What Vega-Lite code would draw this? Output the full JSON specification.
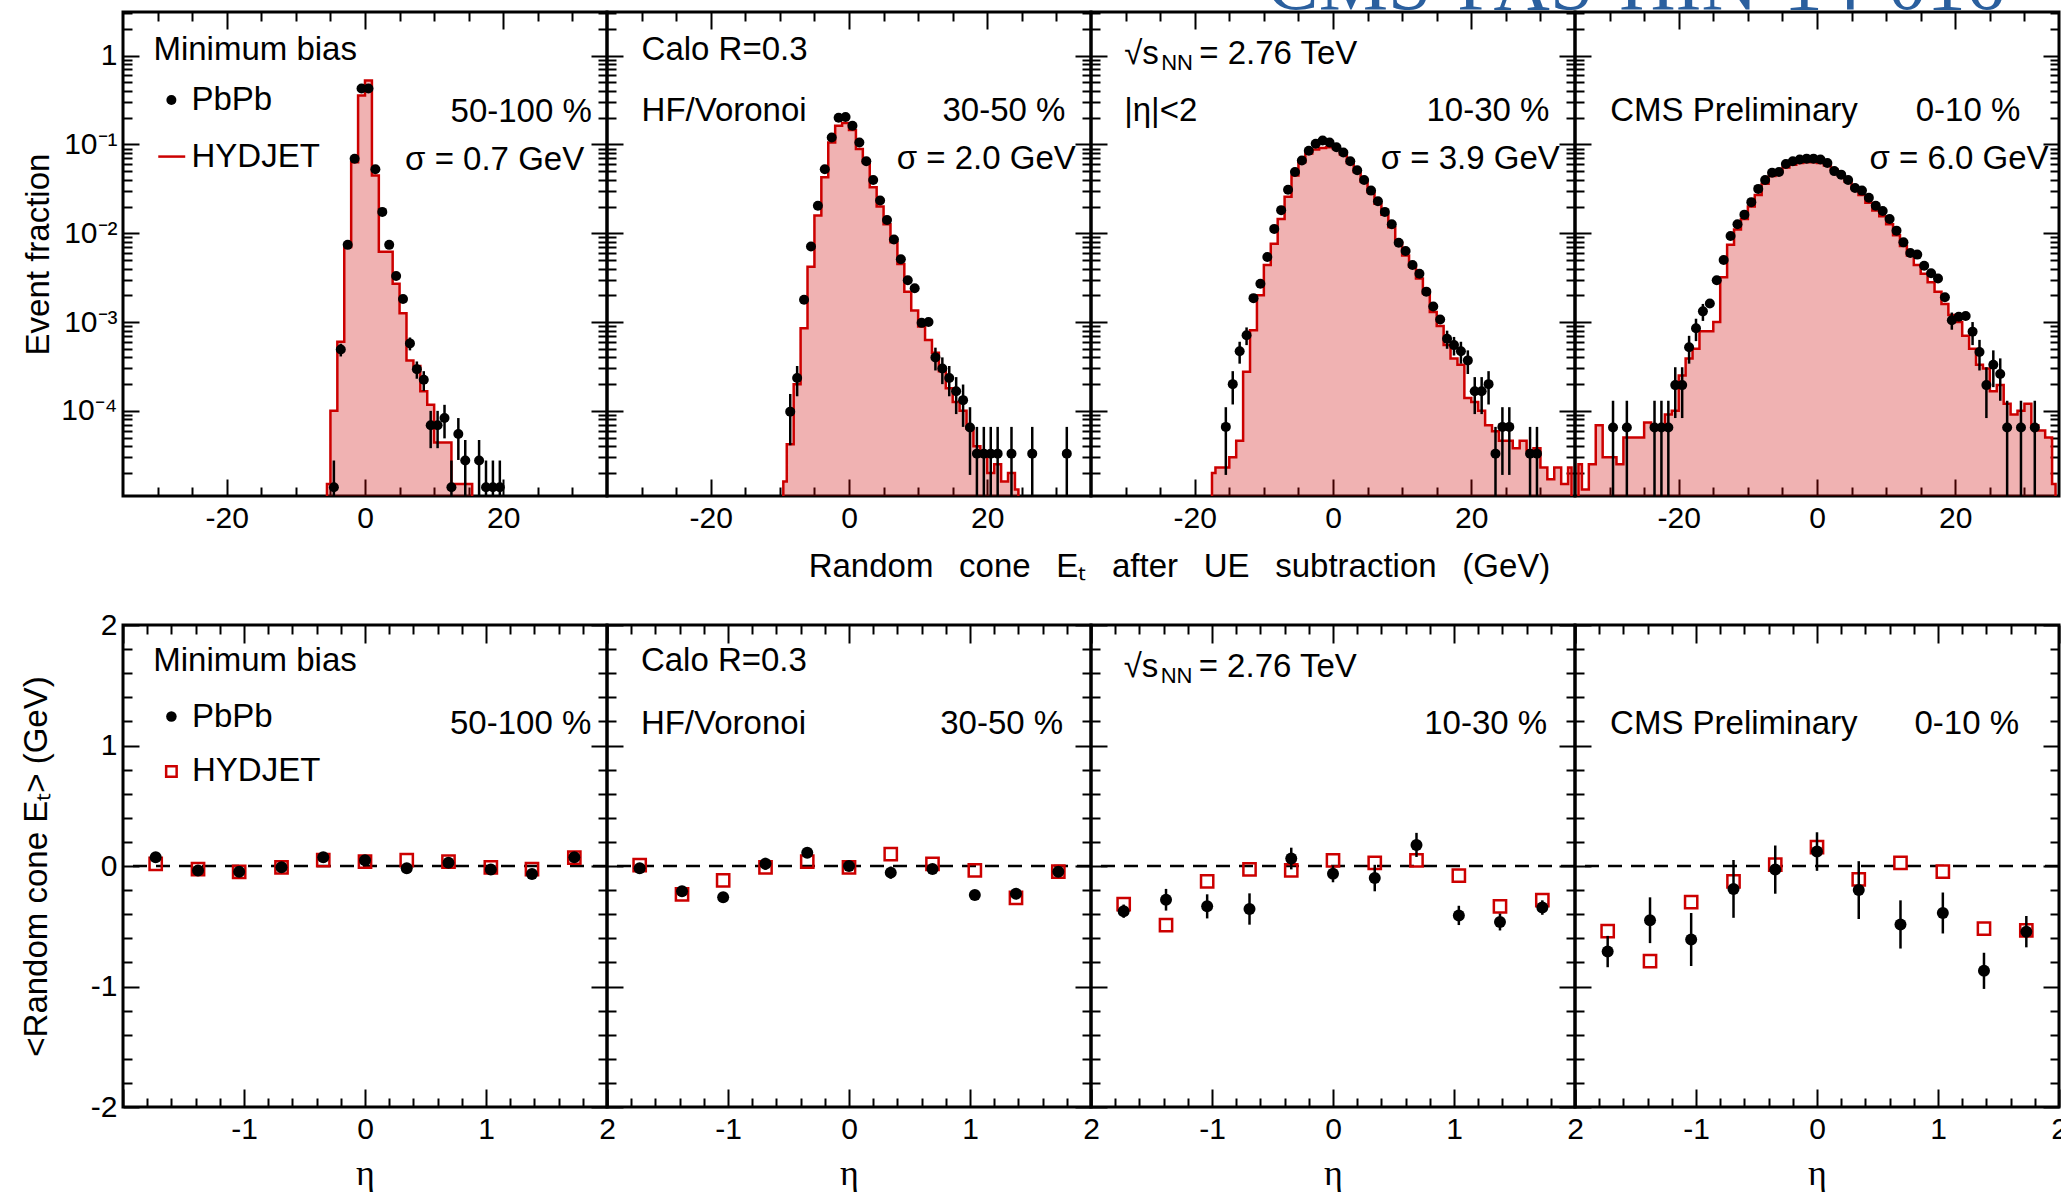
{
  "$schema": "https://vega.github.io/schema/vega-lite/v6.json",
  "background": "white",
  "padding": {"left": 18, "top": -55, "right": 4, "bottom": 2},
  "config": {
    "font": "Liberation Sans",
    "view": {"stroke": "black", "strokeWidth": 3},
    "axis": {"domain": false, "grid": false, "labelFont": "Liberation Sans", "labelFontSize": 30, "labelColor": "black", "tickColor": "black", "tickWidth": 2, "titleFont": "Liberation Sans", "titleFontSize": 33, "titleFontWeight": "normal", "titleColor": "black", "labelFlush": false, "labelOverlap": false, "labelBound": false},
    "text": {"font": "Liberation Sans", "fontSize": 33, "align": "left", "baseline": "middle", "color": "black"}
  },
  "datasets": {
    "hyd": [
      {"p":1,"x":-5.5,"y":1.5e-5},{"p":1,"x":-4.5,"y":1.0e-4},{"p":1,"x":-3.5,"y":6.0e-4},{"p":1,"x":-2.5,"y":7.0e-3},{"p":1,"x":-1.5,"y":0.063},{"p":1,"x":-0.5,"y":0.355},{"p":1,"x":0.5,"y":0.525},{"p":1,"x":1.5,"y":0.0447},{"p":1,"x":2.5,"y":6.2e-3},{"p":1,"x":3.5,"y":6.2e-3},{"p":1,"x":4.5,"y":2.7e-3},{"p":1,"x":5.5,"y":1.26e-3},{"p":1,"x":6.5,"y":3.7e-4},{"p":1,"x":7.5,"y":3.2e-4},{"p":1,"x":8.5,"y":1.66e-4},{"p":1,"x":9.5,"y":1.17e-4},{"p":1,"x":10.5,"y":4.4e-5},{"p":1,"x":11.5,"y":4.4e-5},{"p":1,"x":13.5,"y":1.5e-5},{"p":1,"x":14.5,"y":1.5e-5},{"p":1,"x":15.5,"y":1.5e-5},
      {"p":2,"x":-9.5,"y":1.6e-5},{"p":2,"x":-8.5,"y":4.2e-5},{"p":2,"x":-7.5,"y":2.0e-4},{"p":2,"x":-6.5,"y":8.5e-4},{"p":2,"x":-5.5,"y":4.2e-3},{"p":2,"x":-4.5,"y":0.0158},{"p":2,"x":-3.5,"y":0.0427},{"p":2,"x":-2.5,"y":0.105},{"p":2,"x":-1.5,"y":0.162},{"p":2,"x":-0.5,"y":0.174},{"p":2,"x":0.5,"y":0.145},{"p":2,"x":1.5,"y":0.089},{"p":2,"x":2.5,"y":0.063},{"p":2,"x":3.5,"y":0.033},{"p":2,"x":4.5,"y":0.02},{"p":2,"x":5.5,"y":0.0126},{"p":2,"x":6.5,"y":7.9e-3},{"p":2,"x":7.5,"y":4.5e-3},{"p":2,"x":8.5,"y":2.2e-3},{"p":2,"x":9.5,"y":1.35e-3},{"p":2,"x":10.5,"y":8.9e-4},{"p":2,"x":11.5,"y":6.3e-4},{"p":2,"x":12.5,"y":4.5e-4},{"p":2,"x":13.5,"y":2.8e-4},{"p":2,"x":14.5,"y":1.8e-4},{"p":2,"x":15.5,"y":1.26e-4},{"p":2,"x":16.5,"y":1.0e-4},{"p":2,"x":17.5,"y":6.3e-5},{"p":2,"x":18.5,"y":4.0e-5},{"p":2,"x":19.5,"y":3.2e-5},{"p":2,"x":20.5,"y":2.0e-5},{"p":2,"x":21.5,"y":2.5e-5},{"p":2,"x":22.5,"y":1.6e-5},{"p":2,"x":23.5,"y":2.0e-5},{"p":2,"x":24.5,"y":1.3e-5},
      {"p":3,"x":-17.5,"y":2.0e-5},{"p":3,"x":-16.5,"y":2.3e-5},{"p":3,"x":-15.5,"y":2.3e-5},{"p":3,"x":-14.5,"y":3.0e-5},{"p":3,"x":-13.5,"y":4.6e-5},{"p":3,"x":-12.5,"y":2.75e-4},{"p":3,"x":-11.5,"y":8.1e-4},{"p":3,"x":-10.5,"y":2.0e-3},{"p":3,"x":-9.5,"y":4.4e-3},{"p":3,"x":-8.5,"y":7.6e-3},{"p":3,"x":-7.5,"y":0.0145},{"p":3,"x":-6.5,"y":0.0257},{"p":3,"x":-5.5,"y":0.0447},{"p":3,"x":-4.5,"y":0.063},{"p":3,"x":-3.5,"y":0.079},{"p":3,"x":-2.5,"y":0.088},{"p":3,"x":-1.5,"y":0.091},{"p":3,"x":-0.5,"y":0.093},{"p":3,"x":0.5,"y":0.089},{"p":3,"x":1.5,"y":0.077},{"p":3,"x":2.5,"y":0.062},{"p":3,"x":3.5,"y":0.049},{"p":3,"x":4.5,"y":0.038},{"p":3,"x":5.5,"y":0.029},{"p":3,"x":6.5,"y":0.0215},{"p":3,"x":7.5,"y":0.0162},{"p":3,"x":8.5,"y":0.0117},{"p":3,"x":9.5,"y":7.8e-3},{"p":3,"x":10.5,"y":5.6e-3},{"p":3,"x":11.5,"y":4.2e-3},{"p":3,"x":12.5,"y":3.1e-3},{"p":3,"x":13.5,"y":2.1e-3},{"p":3,"x":14.5,"y":1.3e-3},{"p":3,"x":15.5,"y":9.0e-4},{"p":3,"x":16.5,"y":5.5e-4},{"p":3,"x":17.5,"y":3.9e-4},{"p":3,"x":18.5,"y":3.3e-4},{"p":3,"x":19.5,"y":1.4e-4},{"p":3,"x":20.5,"y":1.26e-4},{"p":3,"x":21.5,"y":1.0e-4},{"p":3,"x":22.5,"y":6.9e-5},{"p":3,"x":23.5,"y":5.9e-5},{"p":3,"x":24.5,"y":4.6e-5},{"p":3,"x":25.5,"y":4.6e-5},{"p":3,"x":26.5,"y":3.8e-5},{"p":3,"x":27.5,"y":4.6e-5},{"p":3,"x":28.5,"y":3.6e-5},{"p":3,"x":29.5,"y":3.8e-5},{"p":3,"x":30.5,"y":2.3e-5},{"p":3,"x":31.5,"y":1.7e-5},{"p":3,"x":32.5,"y":2.3e-5},{"p":3,"x":33.5,"y":1.5e-5},{"p":3,"x":34.5,"y":2.3e-5},
      {"p":4,"x":-34.5,"y":2.5e-5},{"p":4,"x":-33.5,"y":1.3e-5},{"p":4,"x":-32.5,"y":2.5e-5},{"p":4,"x":-31.5,"y":6.9e-5},{"p":4,"x":-30.5,"y":3.0e-5},{"p":4,"x":-29.5,"y":3.0e-5},{"p":4,"x":-28.5,"y":2.5e-5},{"p":4,"x":-27.5,"y":5.0e-5},{"p":4,"x":-26.5,"y":5.0e-5},{"p":4,"x":-25.5,"y":5.0e-5},{"p":4,"x":-24.5,"y":7.4e-5},{"p":4,"x":-23.5,"y":6.9e-5},{"p":4,"x":-22.5,"y":6.9e-5},{"p":4,"x":-21.5,"y":9.1e-5},{"p":4,"x":-20.5,"y":1.0e-4},{"p":4,"x":-19.5,"y":2.5e-4},{"p":4,"x":-18.5,"y":3.9e-4},{"p":4,"x":-17.5,"y":5.0e-4},{"p":4,"x":-16.5,"y":7.9e-4},{"p":4,"x":-15.5,"y":7.9e-4},{"p":4,"x":-14.5,"y":1.0e-3},{"p":4,"x":-13.5,"y":3.2e-3},{"p":4,"x":-12.5,"y":7.4e-3},{"p":4,"x":-11.5,"y":0.011},{"p":4,"x":-10.5,"y":0.0145},{"p":4,"x":-9.5,"y":0.02},{"p":4,"x":-8.5,"y":0.027},{"p":4,"x":-7.5,"y":0.036},{"p":4,"x":-6.5,"y":0.044},{"p":4,"x":-5.5,"y":0.05},{"p":4,"x":-4.5,"y":0.055},{"p":4,"x":-3.5,"y":0.059},{"p":4,"x":-2.5,"y":0.062},{"p":4,"x":-1.5,"y":0.063},{"p":4,"x":-0.5,"y":0.063},{"p":4,"x":0.5,"y":0.062},{"p":4,"x":1.5,"y":0.058},{"p":4,"x":2.5,"y":0.052},{"p":4,"x":3.5,"y":0.045},{"p":4,"x":4.5,"y":0.038},{"p":4,"x":5.5,"y":0.032},{"p":4,"x":6.5,"y":0.027},{"p":4,"x":7.5,"y":0.022},{"p":4,"x":8.5,"y":0.018},{"p":4,"x":9.5,"y":0.0155},{"p":4,"x":10.5,"y":0.0126},{"p":4,"x":11.5,"y":9.5e-3},{"p":4,"x":12.5,"y":7.2e-3},{"p":4,"x":13.5,"y":5.6e-3},{"p":4,"x":14.5,"y":4.4e-3},{"p":4,"x":15.5,"y":3.5e-3},{"p":4,"x":16.5,"y":2.8e-3},{"p":4,"x":17.5,"y":2.2e-3},{"p":4,"x":18.5,"y":1.6e-3},{"p":4,"x":19.5,"y":1.2e-3},{"p":4,"x":20.5,"y":1.0e-3},{"p":4,"x":21.5,"y":7.0e-4},{"p":4,"x":22.5,"y":5.0e-4},{"p":4,"x":23.5,"y":3.3e-4},{"p":4,"x":24.5,"y":3.0e-4},{"p":4,"x":25.5,"y":1.66e-4},{"p":4,"x":26.5,"y":1.95e-4},{"p":4,"x":27.5,"y":1.2e-4},{"p":4,"x":28.5,"y":9.1e-5},{"p":4,"x":29.5,"y":1.0e-4},{"p":4,"x":30.5,"y":1.2e-4},{"p":4,"x":31.5,"y":6.9e-5},{"p":4,"x":32.5,"y":6.0e-5},{"p":4,"x":33.5,"y":5.0e-5},{"p":4,"x":34.5,"y":1.5e-5}
    ],
    "pb": [
      {"p":1,"x":-4.5,"y":1.38e-5,"lo":1e-7,"hi":2.76e-5},{"p":1,"x":-3.5,"y":4.9e-4,"lo":4.1e-4,"hi":5.7e-4},{"p":1,"x":-2.5,"y":7.4e-3},{"p":1,"x":-1.5,"y":0.069},{"p":1,"x":-0.5,"y":0.427},{"p":1,"x":0.5,"y":0.427},{"p":1,"x":1.5,"y":0.0525},{"p":1,"x":2.5,"y":0.0174},{"p":1,"x":3.5,"y":7.4e-3},{"p":1,"x":4.5,"y":3.3e-3},{"p":1,"x":5.5,"y":1.82e-3},{"p":1,"x":6.5,"y":5.75e-4,"lo":4.8e-4,"hi":6.7e-4},{"p":1,"x":7.5,"y":2.95e-4,"lo":2.3e-4,"hi":3.6e-4},{"p":1,"x":8.5,"y":2.24e-4,"lo":1.68e-4,"hi":2.8e-4},{"p":1,"x":9.5,"y":6.9e-5,"lo":3.8e-5,"hi":1.0e-4},{"p":1,"x":10.5,"y":6.9e-5,"lo":3.8e-5,"hi":1.0e-4},{"p":1,"x":11.5,"y":8.3e-5,"lo":4.9e-5,"hi":1.17e-4},{"p":1,"x":12.5,"y":1.38e-5,"lo":1e-7,"hi":2.76e-5},{"p":1,"x":13.5,"y":5.5e-5,"lo":2.8e-5,"hi":8.3e-5},{"p":1,"x":14.5,"y":2.76e-5,"lo":8e-6,"hi":4.7e-5},{"p":1,"x":16.5,"y":2.76e-5,"lo":8e-6,"hi":4.7e-5},{"p":1,"x":17.5,"y":1.38e-5,"lo":1e-7,"hi":2.76e-5},{"p":1,"x":18.5,"y":1.38e-5,"lo":1e-7,"hi":2.76e-5},{"p":1,"x":19.5,"y":1.38e-5,"lo":1e-7,"hi":2.76e-5},
      {"p":2,"x":-8.5,"y":9.8e-5,"lo":4.1e-5,"hi":1.55e-4},{"p":2,"x":-7.5,"y":2.35e-4,"lo":1.46e-4,"hi":3.2e-4},{"p":2,"x":-6.5,"y":1.78e-3},{"p":2,"x":-5.5,"y":7.1e-3},{"p":2,"x":-4.5,"y":0.0204},{"p":2,"x":-3.5,"y":0.0525},{"p":2,"x":-2.5,"y":0.12},{"p":2,"x":-1.5,"y":0.2},{"p":2,"x":-0.5,"y":0.204},{"p":2,"x":0.5,"y":0.162},{"p":2,"x":1.5,"y":0.105},{"p":2,"x":2.5,"y":0.0646},{"p":2,"x":3.5,"y":0.0398},{"p":2,"x":4.5,"y":0.0234},{"p":2,"x":5.5,"y":0.0141},{"p":2,"x":6.5,"y":8.5e-3},{"p":2,"x":7.5,"y":5.1e-3},{"p":2,"x":8.5,"y":2.95e-3},{"p":2,"x":9.5,"y":2.4e-3},{"p":2,"x":10.5,"y":9.8e-4},{"p":2,"x":11.5,"y":1.0e-3},{"p":2,"x":12.5,"y":4.0e-4,"lo":2.85e-4,"hi":5.15e-4},{"p":2,"x":13.5,"y":3.0e-4,"lo":2.0e-4,"hi":4.0e-4},{"p":2,"x":14.5,"y":2.35e-4,"lo":1.46e-4,"hi":3.2e-4},{"p":2,"x":15.5,"y":1.66e-4,"lo":9.2e-5,"hi":2.4e-4},{"p":2,"x":16.5,"y":1.32e-4,"lo":6.6e-5,"hi":1.98e-4},{"p":2,"x":17.5,"y":6.5e-5,"lo":1.9e-5,"hi":1.1e-4},{"p":2,"x":18.5,"y":3.3e-5,"lo":1e-7,"hi":6.6e-5},{"p":2,"x":19.5,"y":3.3e-5,"lo":1e-7,"hi":6.6e-5},{"p":2,"x":20.5,"y":3.3e-5,"lo":1e-7,"hi":6.6e-5},{"p":2,"x":21.5,"y":3.3e-5,"lo":1e-7,"hi":6.6e-5},{"p":2,"x":23.5,"y":3.3e-5,"lo":1e-7,"hi":6.6e-5},{"p":2,"x":26.5,"y":3.3e-5,"lo":1e-7,"hi":6.6e-5},{"p":2,"x":31.5,"y":3.3e-5,"lo":1e-7,"hi":6.6e-5},
      {"p":3,"x":-15.5,"y":6.6e-5,"lo":1.9e-5,"hi":1.1e-4},{"p":3,"x":-14.5,"y":2.0e-4,"lo":1.18e-4,"hi":2.8e-4},{"p":3,"x":-13.5,"y":4.7e-4,"lo":3.4e-4,"hi":6.0e-4},{"p":3,"x":-12.5,"y":7.1e-4,"lo":5.5e-4,"hi":8.7e-4},{"p":3,"x":-11.5,"y":1.86e-3},{"p":3,"x":-10.5,"y":2.7e-3},{"p":3,"x":-9.5,"y":5.4e-3},{"p":3,"x":-8.5,"y":0.0112},{"p":3,"x":-7.5,"y":0.0182},{"p":3,"x":-6.5,"y":0.0309},{"p":3,"x":-5.5,"y":0.049},{"p":3,"x":-4.5,"y":0.066},{"p":3,"x":-3.5,"y":0.085},{"p":3,"x":-2.5,"y":0.102},{"p":3,"x":-1.5,"y":0.111},{"p":3,"x":-0.5,"y":0.105},{"p":3,"x":0.5,"y":0.093},{"p":3,"x":1.5,"y":0.081},{"p":3,"x":2.5,"y":0.0646},{"p":3,"x":3.5,"y":0.0513},{"p":3,"x":4.5,"y":0.0398},{"p":3,"x":5.5,"y":0.0302},{"p":3,"x":6.5,"y":0.0229},{"p":3,"x":7.5,"y":0.0174},{"p":3,"x":8.5,"y":0.0126},{"p":3,"x":9.5,"y":7.8e-3},{"p":3,"x":10.5,"y":6.3e-3},{"p":3,"x":11.5,"y":4.4e-3},{"p":3,"x":12.5,"y":3.5e-3},{"p":3,"x":13.5,"y":2.2e-3},{"p":3,"x":14.5,"y":1.5e-3},{"p":3,"x":15.5,"y":1.07e-3},{"p":3,"x":16.5,"y":6.5e-4,"lo":5.0e-4,"hi":8.0e-4},{"p":3,"x":17.5,"y":5.5e-4,"lo":4.2e-4,"hi":6.8e-4},{"p":3,"x":18.5,"y":4.7e-4,"lo":3.4e-4,"hi":6.0e-4},{"p":3,"x":19.5,"y":3.7e-4,"lo":2.6e-4,"hi":4.8e-4},{"p":3,"x":20.5,"y":1.66e-4,"lo":9.2e-5,"hi":2.4e-4},{"p":3,"x":21.5,"y":1.66e-4,"lo":9.2e-5,"hi":2.4e-4},{"p":3,"x":22.5,"y":2.0e-4,"lo":1.18e-4,"hi":2.8e-4},{"p":3,"x":23.5,"y":3.3e-5,"lo":1e-7,"hi":6.6e-5},{"p":3,"x":24.5,"y":6.6e-5,"lo":1.9e-5,"hi":1.1e-4},{"p":3,"x":25.5,"y":6.6e-5,"lo":1.9e-5,"hi":1.1e-4},{"p":3,"x":28.5,"y":3.3e-5,"lo":1e-7,"hi":6.6e-5},{"p":3,"x":29.5,"y":3.3e-5,"lo":1e-7,"hi":6.6e-5},
      {"p":4,"x":-29.5,"y":6.5e-5,"lo":1e-7,"hi":1.3e-4},{"p":4,"x":-27.5,"y":6.5e-5,"lo":1e-7,"hi":1.3e-4},{"p":4,"x":-23.5,"y":6.5e-5,"lo":1e-7,"hi":1.3e-4},{"p":4,"x":-22.5,"y":6.5e-5,"lo":1e-7,"hi":1.3e-4},{"p":4,"x":-21.5,"y":6.5e-5,"lo":1e-7,"hi":1.3e-4},{"p":4,"x":-20.5,"y":1.95e-4,"lo":8.3e-5,"hi":3.1e-4},{"p":4,"x":-19.5,"y":1.95e-4,"lo":8.3e-5,"hi":3.1e-4},{"p":4,"x":-18.5,"y":5.2e-4,"lo":3.4e-4,"hi":7.0e-4},{"p":4,"x":-17.5,"y":8.5e-4,"lo":6.1e-4,"hi":1.09e-3},{"p":4,"x":-16.5,"y":1.32e-3,"lo":1.03e-3,"hi":1.6e-3},{"p":4,"x":-15.5,"y":1.62e-3},{"p":4,"x":-14.5,"y":2.95e-3},{"p":4,"x":-13.5,"y":5.0e-3},{"p":4,"x":-12.5,"y":9.3e-3},{"p":4,"x":-11.5,"y":0.0126},{"p":4,"x":-10.5,"y":0.0162},{"p":4,"x":-9.5,"y":0.0224},{"p":4,"x":-8.5,"y":0.0316},{"p":4,"x":-7.5,"y":0.0398},{"p":4,"x":-6.5,"y":0.0479},{"p":4,"x":-5.5,"y":0.049},{"p":4,"x":-4.5,"y":0.0603},{"p":4,"x":-3.5,"y":0.0646},{"p":4,"x":-2.5,"y":0.0676},{"p":4,"x":-1.5,"y":0.0692},{"p":4,"x":-0.5,"y":0.0692},{"p":4,"x":0.5,"y":0.0676},{"p":4,"x":1.5,"y":0.0617},{"p":4,"x":2.5,"y":0.0501},{"p":4,"x":3.5,"y":0.0457},{"p":4,"x":4.5,"y":0.0398},{"p":4,"x":5.5,"y":0.0324},{"p":4,"x":6.5,"y":0.0302},{"p":4,"x":7.5,"y":0.0251},{"p":4,"x":8.5,"y":0.0204},{"p":4,"x":9.5,"y":0.0178},{"p":4,"x":10.5,"y":0.0145},{"p":4,"x":11.5,"y":0.0107},{"p":4,"x":12.5,"y":7.9e-3},{"p":4,"x":13.5,"y":6.0e-3},{"p":4,"x":14.5,"y":5.75e-3},{"p":4,"x":15.5,"y":4.3e-3},{"p":4,"x":16.5,"y":3.55e-3},{"p":4,"x":17.5,"y":3.1e-3},{"p":4,"x":18.5,"y":1.9e-3},{"p":4,"x":19.5,"y":1.05e-3,"lo":8.2e-4,"hi":1.28e-3},{"p":4,"x":20.5,"y":1.15e-3},{"p":4,"x":21.5,"y":1.17e-3},{"p":4,"x":22.5,"y":7.8e-4,"lo":5.5e-4,"hi":1.0e-3},{"p":4,"x":23.5,"y":4.6e-4,"lo":2.85e-4,"hi":6.3e-4},{"p":4,"x":24.5,"y":1.95e-4,"lo":8.3e-5,"hi":3.1e-4},{"p":4,"x":25.5,"y":3.3e-4,"lo":1.85e-4,"hi":4.8e-4},{"p":4,"x":26.5,"y":2.6e-4,"lo":1.3e-4,"hi":3.9e-4},{"p":4,"x":27.5,"y":6.5e-5,"lo":1e-7,"hi":1.3e-4},{"p":4,"x":29.5,"y":6.5e-5,"lo":1e-7,"hi":1.3e-4},{"p":4,"x":31.5,"y":6.5e-5,"lo":1e-7,"hi":1.3e-4}
    ],
    "bpb": [
      {"p":1,"eta":-1.73,"v":0.073},{"p":1,"eta":-1.38,"v":-0.037},{"p":1,"eta":-1.04,"v":-0.048},{"p":1,"eta":-0.69,"v":-0.011},{"p":1,"eta":-0.345,"v":0.073},{"p":1,"eta":0,"v":0.048},{"p":1,"eta":0.345,"v":-0.018},{"p":1,"eta":0.69,"v":0.026},{"p":1,"eta":1.04,"v":-0.029},{"p":1,"eta":1.38,"v":-0.066},{"p":1,"eta":1.73,"v":0.073},
      {"p":2,"eta":-1.73,"v":-0.018,"lo":-0.038,"hi":0.002},{"p":2,"eta":-1.38,"v":-0.21,"lo":-0.24,"hi":-0.18},{"p":2,"eta":-1.04,"v":-0.26,"lo":-0.3,"hi":-0.22},{"p":2,"eta":-0.69,"v":0.018,"lo":-0.032,"hi":0.068},{"p":2,"eta":-0.345,"v":0.11,"lo":0.07,"hi":0.15},{"p":2,"eta":0,"v":0.0,"lo":-0.02,"hi":0.02},{"p":2,"eta":0.345,"v":-0.055,"lo":-0.105,"hi":-0.005},{"p":2,"eta":0.69,"v":-0.025,"lo":-0.055,"hi":0.005},{"p":2,"eta":1.04,"v":-0.24,"lo":-0.26,"hi":-0.22},{"p":2,"eta":1.38,"v":-0.23,"lo":-0.26,"hi":-0.2},{"p":2,"eta":1.73,"v":-0.047,"lo":-0.067,"hi":-0.027},
      {"p":3,"eta":-1.73,"v":-0.375,"lo":-0.43,"hi":-0.32},{"p":3,"eta":-1.38,"v":-0.28,"lo":-0.37,"hi":-0.19},{"p":3,"eta":-1.04,"v":-0.335,"lo":-0.435,"hi":-0.235},{"p":3,"eta":-0.69,"v":-0.357,"lo":-0.487,"hi":-0.227},{"p":3,"eta":-0.345,"v":0.062,"lo":-0.028,"hi":0.152},{"p":3,"eta":0,"v":-0.065,"lo":-0.135,"hi":0.005},{"p":3,"eta":0.345,"v":-0.1,"lo":-0.21,"hi":0.01},{"p":3,"eta":0.69,"v":0.175,"lo":0.075,"hi":0.275},{"p":3,"eta":1.04,"v":-0.41,"lo":-0.49,"hi":-0.33},{"p":3,"eta":1.38,"v":-0.465,"lo":-0.535,"hi":-0.395},{"p":3,"eta":1.73,"v":-0.345,"lo":-0.405,"hi":-0.285},
      {"p":4,"eta":-1.73,"v":-0.71,"lo":-0.84,"hi":-0.58},{"p":4,"eta":-1.38,"v":-0.45,"lo":-0.64,"hi":-0.26},{"p":4,"eta":-1.04,"v":-0.61,"lo":-0.83,"hi":-0.39},{"p":4,"eta":-0.69,"v":-0.19,"lo":-0.43,"hi":0.05},{"p":4,"eta":-0.345,"v":-0.03,"lo":-0.23,"hi":0.17},{"p":4,"eta":0,"v":0.12,"lo":-0.04,"hi":0.28},{"p":4,"eta":0.345,"v":-0.2,"lo":-0.44,"hi":0.04},{"p":4,"eta":0.69,"v":-0.485,"lo":-0.685,"hi":-0.285},{"p":4,"eta":1.04,"v":-0.39,"lo":-0.56,"hi":-0.22},{"p":4,"eta":1.38,"v":-0.87,"lo":-1.02,"hi":-0.72},{"p":4,"eta":1.73,"v":-0.545,"lo":-0.675,"hi":-0.415}
    ],
    "bhy": [
      {"p":1,"eta":-1.73,"v":0.018},{"p":1,"eta":-1.38,"v":-0.026},{"p":1,"eta":-1.04,"v":-0.048},{"p":1,"eta":-0.69,"v":-0.011},{"p":1,"eta":-0.345,"v":0.048},{"p":1,"eta":0,"v":0.037},{"p":1,"eta":0.345,"v":0.048},{"p":1,"eta":0.69,"v":0.037},{"p":1,"eta":1.04,"v":-0.011},{"p":1,"eta":1.38,"v":-0.026},{"p":1,"eta":1.73,"v":0.07},
      {"p":2,"eta":-1.73,"v":0.007},{"p":2,"eta":-1.38,"v":-0.236},{"p":2,"eta":-1.04,"v":-0.12},{"p":2,"eta":-0.69,"v":-0.011},{"p":2,"eta":-0.345,"v":0.036},{"p":2,"eta":0,"v":-0.011},{"p":2,"eta":0.345,"v":0.098},{"p":2,"eta":0.69,"v":0.018},{"p":2,"eta":1.04,"v":-0.036},{"p":2,"eta":1.38,"v":-0.265},{"p":2,"eta":1.73,"v":-0.047},
      {"p":3,"eta":-1.73,"v":-0.316},{"p":3,"eta":-1.38,"v":-0.49},{"p":3,"eta":-1.04,"v":-0.127},{"p":3,"eta":-0.69,"v":-0.029},{"p":3,"eta":-0.345,"v":-0.036},{"p":3,"eta":0,"v":0.047},{"p":3,"eta":0.345,"v":0.025},{"p":3,"eta":0.69,"v":0.047},{"p":3,"eta":1.04,"v":-0.08},{"p":3,"eta":1.38,"v":-0.335},{"p":3,"eta":1.73,"v":-0.284},
      {"p":4,"eta":-1.73,"v":-0.54,"lo":-0.59,"hi":-0.49},{"p":4,"eta":-1.38,"v":-0.79,"lo":-0.84,"hi":-0.74},{"p":4,"eta":-1.04,"v":-0.3,"lo":-0.35,"hi":-0.25},{"p":4,"eta":-0.69,"v":-0.127,"lo":-0.177,"hi":-0.077},{"p":4,"eta":-0.345,"v":0.011,"lo":-0.039,"hi":0.061},{"p":4,"eta":0,"v":0.156,"lo":0.106,"hi":0.206},{"p":4,"eta":0.345,"v":-0.11,"lo":-0.16,"hi":-0.06},{"p":4,"eta":0.69,"v":0.025,"lo":-0.025,"hi":0.075},{"p":4,"eta":1.04,"v":-0.047,"lo":-0.097,"hi":0.003},{"p":4,"eta":1.38,"v":-0.52,"lo":-0.57,"hi":-0.47},{"p":4,"eta":1.73,"v":-0.535,"lo":-0.585,"hi":-0.485}
    ]
  },
  "columns": 4,
  "spacing": {"row": 129, "column": 0},
  "bounds": "flush",
  "concat": [
    {
      "width": 484, "height": 484,
      "resolve": {"axis": {"x": "independent", "y": "independent"}},
      "layer": [
        {"data": {"name": "hyd"}, "transform": [{"filter": "datum.p == 1"}],
         "mark": {"type": "area", "interpolate": "step", "clip": true, "fill": "#cc0000", "fillOpacity": 0.3, "stroke": "#cc0000", "strokeWidth": 2.5},
         "encoding": {
           "x": {"field": "x", "type": "quantitative", "scale": {"domain": [-35, 35], "nice": false, "zero": false},
                 "axis": {"orient": "bottom", "values": [-30,-25,-20,-15,-10,-5,0,5,10,15,20,25,30], "tickSize": {"condition": {"test": "datum.value % 20 == 0", "value": -17}, "value": -9}, "labelPadding": 24, "labelExpr": "datum.value % 20 == 0 ? '' + datum.value : ''", "title": null}},
           "y": {"field": "y", "type": "quantitative", "scale": {"type": "log", "domain": [1.1e-5, 3.1], "nice": false},
                 "axis": {"orient": "left", "values": [2e-5,3e-5,4e-5,5e-5,6e-5,7e-5,8e-5,9e-5,1e-4,2e-4,3e-4,4e-4,5e-4,6e-4,7e-4,8e-4,9e-4,0.001,0.002,0.003,0.004,0.005,0.006,0.007,0.008,0.009,0.01,0.02,0.03,0.04,0.05,0.06,0.07,0.08,0.09,0.1,0.2,0.3,0.4,0.5,0.6,0.7,0.8,0.9,1,2,3], "tickSize": {"condition": {"test": "datum.value == 1 || datum.value == 0.1 || datum.value == 0.01 || datum.value == 0.001 || datum.value == 0.0001", "value": -16}, "value": -9}, "labelFontSize": {"condition": {"test": "datum.value == 1 || datum.value == 0.1 || datum.value == 0.01 || datum.value == 0.001 || datum.value == 0.0001", "value": 30}, "value": 0}, "labelPadding": 22, "labelExpr": "datum.value == 1 ? '1' : datum.value == 0.1 ? '10\u207b\u00b9' : datum.value == 0.01 ? '10\u207b\u00b2' : datum.value == 0.001 ? '10\u207b\u00b3' : datum.value == 0.0001 ? '10\u207b\u2074' : ''", "title": "Event fraction", "titleX": -85, "titleBaseline": "middle"}},
           "y2": {"datum": 1e-7}
         }},
        {"data": {"name": "hyd"}, "transform": [{"filter": "datum.p == 1"}],
         "mark": {"type": "point", "opacity": 0, "clip": true},
         "encoding": {
           "x": {"field": "x", "type": "quantitative", "scale": {"domain": [-35, 35], "nice": false, "zero": false},
                 "axis": {"orient": "top", "values": [-30,-25,-20,-15,-10,-5,0,5,10,15,20,25,30], "tickSize": {"condition": {"test": "datum.value % 20 == 0", "value": -17}, "value": -9}, "labels": false, "title": null}},
           "y": {"field": "y", "type": "quantitative", "scale": {"type": "log", "domain": [1.1e-5, 3.1], "nice": false},
                 "axis": {"orient": "right", "values": [2e-5,3e-5,4e-5,5e-5,6e-5,7e-5,8e-5,9e-5,1e-4,2e-4,3e-4,4e-4,5e-4,6e-4,7e-4,8e-4,9e-4,0.001,0.002,0.003,0.004,0.005,0.006,0.007,0.008,0.009,0.01,0.02,0.03,0.04,0.05,0.06,0.07,0.08,0.09,0.1,0.2,0.3,0.4,0.5,0.6,0.7,0.8,0.9,1,2,3], "tickSize": {"condition": {"test": "datum.value == 1 || datum.value == 0.1 || datum.value == 0.01 || datum.value == 0.001 || datum.value == 0.0001", "value": -16}, "value": -9}, "labels": false, "title": null}}
         }},
        {"data": {"name": "pb"}, "transform": [{"filter": "datum.p == 1 && isValid(datum.lo)"}],
         "mark": {"type": "rule", "clip": true, "color": "black", "strokeWidth": 2.5},
         "encoding": {"x": {"field": "x", "type": "quantitative", "axis": null}, "y": {"field": "lo", "type": "quantitative", "axis": null}, "y2": {"field": "hi"}}},
        {"data": {"name": "pb"}, "transform": [{"filter": "datum.p == 1"}],
         "mark": {"type": "circle", "size": 100, "color": "black", "opacity": 1},
         "encoding": {"x": {"field": "x", "type": "quantitative", "axis": null}, "y": {"field": "y", "type": "quantitative", "axis": null}}},
        {"data": {"values": [{}]}, "mark": {"type": "text", "text": "Minimum bias"}, "encoding": {"x": {"datum": -30.6, "axis": null}, "y": {"datum": 1.15, "axis": null}}},
        {"data": {"values": [{}]}, "mark": {"type": "circle", "size": 100, "color": "black", "opacity": 1}, "encoding": {"x": {"datum": -28, "axis": null}, "y": {"datum": 0.316, "axis": null}}},
        {"data": {"values": [{}]}, "mark": {"type": "text", "text": "PbPb"}, "encoding": {"x": {"datum": -25.1, "axis": null}, "y": {"datum": 0.316, "axis": null}}},
        {"data": {"values": [{}]}, "mark": {"type": "rule", "color": "#cc0000", "strokeWidth": 2.5}, "encoding": {"x": {"datum": -29.9, "axis": null}, "x2": {"datum": -26}, "y": {"datum": 0.073, "axis": null}}},
        {"data": {"values": [{}]}, "mark": {"type": "text", "text": "HYDJET"}, "encoding": {"x": {"datum": -25.1, "axis": null}, "y": {"datum": 0.073, "axis": null}}},
        {"data": {"values": [{}]}, "mark": {"type": "text", "text": "50-100 %", "align": "right"}, "encoding": {"x": {"datum": 32.8, "axis": null}, "y": {"datum": 0.232, "axis": null}}},
        {"data": {"values": [{}]}, "mark": {"type": "text", "text": "\u03c3 = 0.7 GeV", "align": "right"}, "encoding": {"x": {"datum": 31.7, "axis": null}, "y": {"datum": 0.066, "axis": null}}}
      ]
    },
    {
      "width": 484, "height": 484,
      "resolve": {"axis": {"x": "independent", "y": "independent"}},
      "layer": [
        {"data": {"name": "hyd"}, "transform": [{"filter": "datum.p == 2"}],
         "mark": {"type": "area", "interpolate": "step", "clip": true, "fill": "#cc0000", "fillOpacity": 0.3, "stroke": "#cc0000", "strokeWidth": 2.5},
         "encoding": {
           "x": {"field": "x", "type": "quantitative", "scale": {"domain": [-35, 35], "nice": false, "zero": false},
                 "axis": {"orient": "bottom", "values": [-30,-25,-20,-15,-10,-5,0,5,10,15,20,25,30], "tickSize": {"condition": {"test": "datum.value % 20 == 0", "value": -17}, "value": -9}, "labelPadding": 24, "labelExpr": "datum.value % 20 == 0 ? '' + datum.value : ''", "title": "Random\u2002 cone\u2002 E\u209c\u2002 after\u2002 UE\u2002 subtraction\u2002 (GeV)", "titleX": 572, "titleY": 70, "titleBaseline": "middle"}},
           "y": {"field": "y", "type": "quantitative", "scale": {"type": "log", "domain": [1.1e-5, 3.1], "nice": false},
                 "axis": {"orient": "left", "values": [2e-5,3e-5,4e-5,5e-5,6e-5,7e-5,8e-5,9e-5,1e-4,2e-4,3e-4,4e-4,5e-4,6e-4,7e-4,8e-4,9e-4,0.001,0.002,0.003,0.004,0.005,0.006,0.007,0.008,0.009,0.01,0.02,0.03,0.04,0.05,0.06,0.07,0.08,0.09,0.1,0.2,0.3,0.4,0.5,0.6,0.7,0.8,0.9,1,2,3], "tickSize": {"condition": {"test": "datum.value == 1 || datum.value == 0.1 || datum.value == 0.01 || datum.value == 0.001 || datum.value == 0.0001", "value": -16}, "value": -9}, "labels": false, "title": null}},
           "y2": {"datum": 1e-7}
         }},
        {"data": {"name": "hyd"}, "transform": [{"filter": "datum.p == 2"}],
         "mark": {"type": "point", "opacity": 0, "clip": true},
         "encoding": {
           "x": {"field": "x", "type": "quantitative", "scale": {"domain": [-35, 35], "nice": false, "zero": false},
                 "axis": {"orient": "top", "values": [-30,-25,-20,-15,-10,-5,0,5,10,15,20,25,30], "tickSize": {"condition": {"test": "datum.value % 20 == 0", "value": -17}, "value": -9}, "labels": false, "title": null}},
           "y": {"field": "y", "type": "quantitative", "scale": {"type": "log", "domain": [1.1e-5, 3.1], "nice": false},
                 "axis": {"orient": "right", "values": [2e-5,3e-5,4e-5,5e-5,6e-5,7e-5,8e-5,9e-5,1e-4,2e-4,3e-4,4e-4,5e-4,6e-4,7e-4,8e-4,9e-4,0.001,0.002,0.003,0.004,0.005,0.006,0.007,0.008,0.009,0.01,0.02,0.03,0.04,0.05,0.06,0.07,0.08,0.09,0.1,0.2,0.3,0.4,0.5,0.6,0.7,0.8,0.9,1,2,3], "tickSize": {"condition": {"test": "datum.value == 1 || datum.value == 0.1 || datum.value == 0.01 || datum.value == 0.001 || datum.value == 0.0001", "value": -16}, "value": -9}, "labels": false, "title": null}}
         }},
        {"data": {"name": "pb"}, "transform": [{"filter": "datum.p == 2 && isValid(datum.lo)"}],
         "mark": {"type": "rule", "clip": true, "color": "black", "strokeWidth": 2.5},
         "encoding": {"x": {"field": "x", "type": "quantitative", "axis": null}, "y": {"field": "lo", "type": "quantitative", "axis": null}, "y2": {"field": "hi"}}},
        {"data": {"name": "pb"}, "transform": [{"filter": "datum.p == 2"}],
         "mark": {"type": "circle", "size": 100, "color": "black", "opacity": 1},
         "encoding": {"x": {"field": "x", "type": "quantitative", "axis": null}, "y": {"field": "y", "type": "quantitative", "axis": null}}},
        {"data": {"values": [{}]}, "mark": {"type": "text", "text": "Calo R=0.3"}, "encoding": {"x": {"datum": -30, "axis": null}, "y": {"datum": 1.15, "axis": null}}},
        {"data": {"values": [{}]}, "mark": {"type": "text", "text": "HF/Voronoi"}, "encoding": {"x": {"datum": -30, "axis": null}, "y": {"datum": 0.24, "axis": null}}},
        {"data": {"values": [{}]}, "mark": {"type": "text", "text": "30-50 %", "align": "right"}, "encoding": {"x": {"datum": 31.3, "axis": null}, "y": {"datum": 0.24, "axis": null}}},
        {"data": {"values": [{}]}, "mark": {"type": "text", "text": "\u03c3 = 2.0 GeV", "align": "right"}, "encoding": {"x": {"datum": 32.8, "axis": null}, "y": {"datum": 0.068, "axis": null}}}
      ]
    },
    {
      "width": 484, "height": 484,
      "resolve": {"axis": {"x": "independent", "y": "independent"}},
      "layer": [
        {"data": {"name": "hyd"}, "transform": [{"filter": "datum.p == 3"}],
         "mark": {"type": "area", "interpolate": "step", "clip": true, "fill": "#cc0000", "fillOpacity": 0.3, "stroke": "#cc0000", "strokeWidth": 2.5},
         "encoding": {
           "x": {"field": "x", "type": "quantitative", "scale": {"domain": [-35, 35], "nice": false, "zero": false},
                 "axis": {"orient": "bottom", "values": [-30,-25,-20,-15,-10,-5,0,5,10,15,20,25,30], "tickSize": {"condition": {"test": "datum.value % 20 == 0", "value": -17}, "value": -9}, "labelPadding": 24, "labelExpr": "datum.value % 20 == 0 ? '' + datum.value : ''", "title": null}},
           "y": {"field": "y", "type": "quantitative", "scale": {"type": "log", "domain": [1.1e-5, 3.1], "nice": false},
                 "axis": {"orient": "left", "values": [2e-5,3e-5,4e-5,5e-5,6e-5,7e-5,8e-5,9e-5,1e-4,2e-4,3e-4,4e-4,5e-4,6e-4,7e-4,8e-4,9e-4,0.001,0.002,0.003,0.004,0.005,0.006,0.007,0.008,0.009,0.01,0.02,0.03,0.04,0.05,0.06,0.07,0.08,0.09,0.1,0.2,0.3,0.4,0.5,0.6,0.7,0.8,0.9,1,2,3], "tickSize": {"condition": {"test": "datum.value == 1 || datum.value == 0.1 || datum.value == 0.01 || datum.value == 0.001 || datum.value == 0.0001", "value": -16}, "value": -9}, "labels": false, "title": null}},
           "y2": {"datum": 1e-7}
         }},
        {"data": {"name": "hyd"}, "transform": [{"filter": "datum.p == 3"}],
         "mark": {"type": "point", "opacity": 0, "clip": true},
         "encoding": {
           "x": {"field": "x", "type": "quantitative", "scale": {"domain": [-35, 35], "nice": false, "zero": false},
                 "axis": {"orient": "top", "values": [-30,-25,-20,-15,-10,-5,0,5,10,15,20,25,30], "tickSize": {"condition": {"test": "datum.value % 20 == 0", "value": -17}, "value": -9}, "labels": false, "title": null}},
           "y": {"field": "y", "type": "quantitative", "scale": {"type": "log", "domain": [1.1e-5, 3.1], "nice": false},
                 "axis": {"orient": "right", "values": [2e-5,3e-5,4e-5,5e-5,6e-5,7e-5,8e-5,9e-5,1e-4,2e-4,3e-4,4e-4,5e-4,6e-4,7e-4,8e-4,9e-4,0.001,0.002,0.003,0.004,0.005,0.006,0.007,0.008,0.009,0.01,0.02,0.03,0.04,0.05,0.06,0.07,0.08,0.09,0.1,0.2,0.3,0.4,0.5,0.6,0.7,0.8,0.9,1,2,3], "tickSize": {"condition": {"test": "datum.value == 1 || datum.value == 0.1 || datum.value == 0.01 || datum.value == 0.001 || datum.value == 0.0001", "value": -16}, "value": -9}, "labels": false, "title": null}}
         }},
        {"data": {"name": "pb"}, "transform": [{"filter": "datum.p == 3 && isValid(datum.lo)"}],
         "mark": {"type": "rule", "clip": true, "color": "black", "strokeWidth": 2.5},
         "encoding": {"x": {"field": "x", "type": "quantitative", "axis": null}, "y": {"field": "lo", "type": "quantitative", "axis": null}, "y2": {"field": "hi"}}},
        {"data": {"name": "pb"}, "transform": [{"filter": "datum.p == 3"}],
         "mark": {"type": "circle", "size": 100, "color": "black", "opacity": 1},
         "encoding": {"x": {"field": "x", "type": "quantitative", "axis": null}, "y": {"field": "y", "type": "quantitative", "axis": null}}},
        {"data": {"values": [{}]}, "mark": {"type": "text", "text": "CMS-PAS-HIN-14-016", "font": "Liberation Serif", "fontSize": 78, "baseline": "alphabetic", "color": "#2a5f9e"}, "encoding": {"x": {"datum": -9.6, "axis": null}, "y": {"datum": 3.35, "axis": null}}},
        {"data": {"values": [{}]}, "mark": {"type": "text", "text": "\u221as"}, "encoding": {"x": {"datum": -30.2, "axis": null}, "y": {"datum": 1.03, "axis": null}}},
        {"data": {"values": [{}]}, "mark": {"type": "text", "text": "NN", "fontSize": 22, "dx": 37, "dy": 9}, "encoding": {"x": {"datum": -30.2, "axis": null}, "y": {"datum": 1.03, "axis": null}}},
        {"data": {"values": [{}]}, "mark": {"type": "text", "text": "= 2.76 TeV", "dx": 75}, "encoding": {"x": {"datum": -30.2, "axis": null}, "y": {"datum": 1.03, "axis": null}}},
        {"data": {"values": [{}]}, "mark": {"type": "text", "text": "|\u03b7|<2"}, "encoding": {"x": {"datum": -30.2, "axis": null}, "y": {"datum": 0.24, "axis": null}}},
        {"data": {"values": [{}]}, "mark": {"type": "text", "text": "10-30 %", "align": "right"}, "encoding": {"x": {"datum": 31.3, "axis": null}, "y": {"datum": 0.24, "axis": null}}},
        {"data": {"values": [{}]}, "mark": {"type": "text", "text": "\u03c3 = 3.9 GeV", "align": "right"}, "encoding": {"x": {"datum": 32.8, "axis": null}, "y": {"datum": 0.068, "axis": null}}}
      ]
    },
    {
      "width": 484, "height": 484,
      "resolve": {"axis": {"x": "independent", "y": "independent"}},
      "layer": [
        {"data": {"name": "hyd"}, "transform": [{"filter": "datum.p == 4"}],
         "mark": {"type": "area", "interpolate": "step", "clip": true, "fill": "#cc0000", "fillOpacity": 0.3, "stroke": "#cc0000", "strokeWidth": 2.5},
         "encoding": {
           "x": {"field": "x", "type": "quantitative", "scale": {"domain": [-35, 35], "nice": false, "zero": false},
                 "axis": {"orient": "bottom", "values": [-30,-25,-20,-15,-10,-5,0,5,10,15,20,25,30], "tickSize": {"condition": {"test": "datum.value % 20 == 0", "value": -17}, "value": -9}, "labelPadding": 24, "labelExpr": "datum.value % 20 == 0 ? '' + datum.value : ''", "title": null}},
           "y": {"field": "y", "type": "quantitative", "scale": {"type": "log", "domain": [1.1e-5, 3.1], "nice": false},
                 "axis": {"orient": "left", "values": [2e-5,3e-5,4e-5,5e-5,6e-5,7e-5,8e-5,9e-5,1e-4,2e-4,3e-4,4e-4,5e-4,6e-4,7e-4,8e-4,9e-4,0.001,0.002,0.003,0.004,0.005,0.006,0.007,0.008,0.009,0.01,0.02,0.03,0.04,0.05,0.06,0.07,0.08,0.09,0.1,0.2,0.3,0.4,0.5,0.6,0.7,0.8,0.9,1,2,3], "tickSize": {"condition": {"test": "datum.value == 1 || datum.value == 0.1 || datum.value == 0.01 || datum.value == 0.001 || datum.value == 0.0001", "value": -16}, "value": -9}, "labels": false, "title": null}},
           "y2": {"datum": 1e-7}
         }},
        {"data": {"name": "hyd"}, "transform": [{"filter": "datum.p == 4"}],
         "mark": {"type": "point", "opacity": 0, "clip": true},
         "encoding": {
           "x": {"field": "x", "type": "quantitative", "scale": {"domain": [-35, 35], "nice": false, "zero": false},
                 "axis": {"orient": "top", "values": [-30,-25,-20,-15,-10,-5,0,5,10,15,20,25,30], "tickSize": {"condition": {"test": "datum.value % 20 == 0", "value": -17}, "value": -9}, "labels": false, "title": null}},
           "y": {"field": "y", "type": "quantitative", "scale": {"type": "log", "domain": [1.1e-5, 3.1], "nice": false},
                 "axis": {"orient": "right", "values": [2e-5,3e-5,4e-5,5e-5,6e-5,7e-5,8e-5,9e-5,1e-4,2e-4,3e-4,4e-4,5e-4,6e-4,7e-4,8e-4,9e-4,0.001,0.002,0.003,0.004,0.005,0.006,0.007,0.008,0.009,0.01,0.02,0.03,0.04,0.05,0.06,0.07,0.08,0.09,0.1,0.2,0.3,0.4,0.5,0.6,0.7,0.8,0.9,1,2,3], "tickSize": {"condition": {"test": "datum.value == 1 || datum.value == 0.1 || datum.value == 0.01 || datum.value == 0.001 || datum.value == 0.0001", "value": -16}, "value": -9}, "labels": false, "title": null}}
         }},
        {"data": {"name": "pb"}, "transform": [{"filter": "datum.p == 4 && isValid(datum.lo)"}],
         "mark": {"type": "rule", "clip": true, "color": "black", "strokeWidth": 2.5},
         "encoding": {"x": {"field": "x", "type": "quantitative", "axis": null}, "y": {"field": "lo", "type": "quantitative", "axis": null}, "y2": {"field": "hi"}}},
        {"data": {"name": "pb"}, "transform": [{"filter": "datum.p == 4"}],
         "mark": {"type": "circle", "size": 100, "color": "black", "opacity": 1},
         "encoding": {"x": {"field": "x", "type": "quantitative", "axis": null}, "y": {"field": "y", "type": "quantitative", "axis": null}}},
        {"data": {"values": [{}]}, "mark": {"type": "text", "text": "CMS Preliminary"}, "encoding": {"x": {"datum": -29.9, "axis": null}, "y": {"datum": 0.24, "axis": null}}},
        {"data": {"values": [{}]}, "mark": {"type": "text", "text": "0-10 %", "align": "right"}, "encoding": {"x": {"datum": 29.4, "axis": null}, "y": {"datum": 0.24, "axis": null}}},
        {"data": {"values": [{}]}, "mark": {"type": "text", "text": "\u03c3 = 6.0 GeV", "align": "right"}, "encoding": {"x": {"datum": 33.5, "axis": null}, "y": {"datum": 0.068, "axis": null}}}
      ]
    },
    {
      "width": 484, "height": 482,
      "resolve": {"axis": {"x": "independent", "y": "independent"}},
      "layer": [
        {"data": {"values": [{}]}, "mark": {"type": "rule", "strokeDash": [14, 9], "strokeWidth": 2.5, "color": "black"}, "encoding": {"y": {"datum": 0, "axis": null}}},
        {"data": {"name": "bhy"}, "transform": [{"filter": "datum.p == 1"}],
         "mark": {"type": "point", "shape": "square", "filled": false, "color": "#cc0000", "strokeWidth": 2.5, "size": 150, "opacity": 1},
         "encoding": {"x": {"field": "eta", "type": "quantitative", "axis": null}, "y": {"field": "v", "type": "quantitative", "axis": null}}},
        {"data": {"name": "bpb"}, "transform": [{"filter": "datum.p == 1"}],
         "mark": {"type": "circle", "size": 144, "color": "black", "opacity": 1},
         "encoding": {
           "x": {"field": "eta", "type": "quantitative", "scale": {"domain": [-2, 2], "nice": false, "zero": false},
                 "axis": {"orient": "bottom", "values": [-2,-1.8,-1.6,-1.4,-1.2,-1,-0.8,-0.6,-0.4,-0.2,0,0.2,0.4,0.6,0.8,1,1.2,1.4,1.6,1.8,2], "tickSize": {"condition": {"test": "abs(datum.value - round(datum.value)) < 0.01", "value": -18}, "value": -9}, "labelPadding": 25, "labelExpr": "abs(datum.value - round(datum.value)) < 0.01 && datum.value > -1.5 ? '' + round(datum.value) : ''", "title": "\u03b7", "titleFont": "Liberation Serif", "titleFontSize": 36, "titleY": 66, "titleBaseline": "middle"}},
           "y": {"field": "v", "type": "quantitative", "scale": {"domain": [-2, 2], "nice": false, "zero": false},
                 "axis": {"orient": "left", "values": [-2,-1.8,-1.6,-1.4,-1.2,-1,-0.8,-0.6,-0.4,-0.2,0,0.2,0.4,0.6,0.8,1,1.2,1.4,1.6,1.8,2], "tickSize": {"condition": {"test": "abs(datum.value - round(datum.value)) < 0.01", "value": -16}, "value": -9}, "labelFontSize": {"condition": {"test": "abs(datum.value - round(datum.value)) < 0.01", "value": 30}, "value": 0}, "labelPadding": 22, "labelExpr": "abs(datum.value - round(datum.value)) < 0.01 ? '' + round(datum.value) : ''", "title": "<Random cone E\u209c> (GeV)", "titleX": -87, "titleBaseline": "middle"}}
         }},
        {"data": {"name": "bpb"}, "transform": [{"filter": "datum.p == 1"}],
         "mark": {"type": "point", "opacity": 0},
         "encoding": {
           "x": {"field": "eta", "type": "quantitative", "scale": {"domain": [-2, 2], "nice": false, "zero": false},
                 "axis": {"orient": "top", "values": [-2,-1.8,-1.6,-1.4,-1.2,-1,-0.8,-0.6,-0.4,-0.2,0,0.2,0.4,0.6,0.8,1,1.2,1.4,1.6,1.8,2], "tickSize": {"condition": {"test": "abs(datum.value - round(datum.value)) < 0.01", "value": -18}, "value": -9}, "labels": false, "title": null}},
           "y": {"field": "v", "type": "quantitative", "scale": {"domain": [-2, 2], "nice": false, "zero": false},
                 "axis": {"orient": "right", "values": [-2,-1.8,-1.6,-1.4,-1.2,-1,-0.8,-0.6,-0.4,-0.2,0,0.2,0.4,0.6,0.8,1,1.2,1.4,1.6,1.8,2], "tickSize": {"condition": {"test": "abs(datum.value - round(datum.value)) < 0.01", "value": -16}, "value": -9}, "labels": false, "title": null}}
         }},
        {"data": {"values": [{}]}, "mark": {"type": "text", "text": "Minimum bias"}, "encoding": {"x": {"datum": -1.75, "axis": null}, "y": {"datum": 1.7, "axis": null}}},
        {"data": {"values": [{}]}, "mark": {"type": "circle", "size": 110, "color": "black", "opacity": 1}, "encoding": {"x": {"datum": -1.6, "axis": null}, "y": {"datum": 1.24, "axis": null}}},
        {"data": {"values": [{}]}, "mark": {"type": "text", "text": "PbPb"}, "encoding": {"x": {"datum": -1.43, "axis": null}, "y": {"datum": 1.24, "axis": null}}},
        {"data": {"values": [{}]}, "mark": {"type": "point", "shape": "square", "filled": false, "color": "#cc0000", "strokeWidth": 2.5, "size": 110, "opacity": 1}, "encoding": {"x": {"datum": -1.6, "axis": null}, "y": {"datum": 0.785, "axis": null}}},
        {"data": {"values": [{}]}, "mark": {"type": "text", "text": "HYDJET"}, "encoding": {"x": {"datum": -1.43, "axis": null}, "y": {"datum": 0.785, "axis": null}}},
        {"data": {"values": [{}]}, "mark": {"type": "text", "text": "50-100 %", "align": "right"}, "encoding": {"x": {"datum": 1.87, "axis": null}, "y": {"datum": 1.18, "axis": null}}}
      ]
    },
    {
      "width": 484, "height": 482,
      "resolve": {"axis": {"x": "independent", "y": "independent"}},
      "layer": [
        {"data": {"values": [{}]}, "mark": {"type": "rule", "strokeDash": [14, 9], "strokeWidth": 2.5, "color": "black"}, "encoding": {"y": {"datum": 0, "axis": null}}},
        {"data": {"name": "bhy"}, "transform": [{"filter": "datum.p == 2"}],
         "mark": {"type": "point", "shape": "square", "filled": false, "color": "#cc0000", "strokeWidth": 2.5, "size": 150, "opacity": 1},
         "encoding": {"x": {"field": "eta", "type": "quantitative", "axis": null}, "y": {"field": "v", "type": "quantitative", "axis": null}}},
        {"data": {"name": "bpb"}, "transform": [{"filter": "datum.p == 2 && isValid(datum.lo)"}],
         "mark": {"type": "rule", "color": "black", "strokeWidth": 2.5},
         "encoding": {"x": {"field": "eta", "type": "quantitative", "axis": null}, "y": {"field": "lo", "type": "quantitative", "axis": null}, "y2": {"field": "hi"}}},
        {"data": {"name": "bpb"}, "transform": [{"filter": "datum.p == 2"}],
         "mark": {"type": "circle", "size": 144, "color": "black", "opacity": 1},
         "encoding": {
           "x": {"field": "eta", "type": "quantitative", "scale": {"domain": [-2, 2], "nice": false, "zero": false},
                 "axis": {"orient": "bottom", "values": [-2,-1.8,-1.6,-1.4,-1.2,-1,-0.8,-0.6,-0.4,-0.2,0,0.2,0.4,0.6,0.8,1,1.2,1.4,1.6,1.8,2], "tickSize": {"condition": {"test": "abs(datum.value - round(datum.value)) < 0.01", "value": -18}, "value": -9}, "labelPadding": 25, "labelExpr": "abs(datum.value - round(datum.value)) < 0.01 && datum.value > -1.5 ? '' + round(datum.value) : ''", "title": "\u03b7", "titleFont": "Liberation Serif", "titleFontSize": 36, "titleY": 66, "titleBaseline": "middle"}},
           "y": {"field": "v", "type": "quantitative", "scale": {"domain": [-2, 2], "nice": false, "zero": false},
                 "axis": {"orient": "left", "values": [-2,-1.8,-1.6,-1.4,-1.2,-1,-0.8,-0.6,-0.4,-0.2,0,0.2,0.4,0.6,0.8,1,1.2,1.4,1.6,1.8,2], "tickSize": {"condition": {"test": "abs(datum.value - round(datum.value)) < 0.01", "value": -16}, "value": -9}, "labels": false, "title": null}}
         }},
        {"data": {"name": "bpb"}, "transform": [{"filter": "datum.p == 2"}],
         "mark": {"type": "point", "opacity": 0},
         "encoding": {
           "x": {"field": "eta", "type": "quantitative", "scale": {"domain": [-2, 2], "nice": false, "zero": false},
                 "axis": {"orient": "top", "values": [-2,-1.8,-1.6,-1.4,-1.2,-1,-0.8,-0.6,-0.4,-0.2,0,0.2,0.4,0.6,0.8,1,1.2,1.4,1.6,1.8,2], "tickSize": {"condition": {"test": "abs(datum.value - round(datum.value)) < 0.01", "value": -18}, "value": -9}, "labels": false, "title": null}},
           "y": {"field": "v", "type": "quantitative", "scale": {"domain": [-2, 2], "nice": false, "zero": false},
                 "axis": {"orient": "right", "values": [-2,-1.8,-1.6,-1.4,-1.2,-1,-0.8,-0.6,-0.4,-0.2,0,0.2,0.4,0.6,0.8,1,1.2,1.4,1.6,1.8,2], "tickSize": {"condition": {"test": "abs(datum.value - round(datum.value)) < 0.01", "value": -16}, "value": -9}, "labels": false, "title": null}}
         }},
        {"data": {"values": [{}]}, "mark": {"type": "text", "text": "Calo R=0.3"}, "encoding": {"x": {"datum": -1.72, "axis": null}, "y": {"datum": 1.7, "axis": null}}},
        {"data": {"values": [{}]}, "mark": {"type": "text", "text": "HF/Voronoi"}, "encoding": {"x": {"datum": -1.72, "axis": null}, "y": {"datum": 1.18, "axis": null}}},
        {"data": {"values": [{}]}, "mark": {"type": "text", "text": "30-50 %", "align": "right"}, "encoding": {"x": {"datum": 1.77, "axis": null}, "y": {"datum": 1.18, "axis": null}}}
      ]
    },
    {
      "width": 484, "height": 482,
      "resolve": {"axis": {"x": "independent", "y": "independent"}},
      "layer": [
        {"data": {"values": [{}]}, "mark": {"type": "rule", "strokeDash": [14, 9], "strokeWidth": 2.5, "color": "black"}, "encoding": {"y": {"datum": 0, "axis": null}}},
        {"data": {"name": "bhy"}, "transform": [{"filter": "datum.p == 3"}],
         "mark": {"type": "point", "shape": "square", "filled": false, "color": "#cc0000", "strokeWidth": 2.5, "size": 150, "opacity": 1},
         "encoding": {"x": {"field": "eta", "type": "quantitative", "axis": null}, "y": {"field": "v", "type": "quantitative", "axis": null}}},
        {"data": {"name": "bpb"}, "transform": [{"filter": "datum.p == 3 && isValid(datum.lo)"}],
         "mark": {"type": "rule", "color": "black", "strokeWidth": 2.5},
         "encoding": {"x": {"field": "eta", "type": "quantitative", "axis": null}, "y": {"field": "lo", "type": "quantitative", "axis": null}, "y2": {"field": "hi"}}},
        {"data": {"name": "bpb"}, "transform": [{"filter": "datum.p == 3"}],
         "mark": {"type": "circle", "size": 144, "color": "black", "opacity": 1},
         "encoding": {
           "x": {"field": "eta", "type": "quantitative", "scale": {"domain": [-2, 2], "nice": false, "zero": false},
                 "axis": {"orient": "bottom", "values": [-2,-1.8,-1.6,-1.4,-1.2,-1,-0.8,-0.6,-0.4,-0.2,0,0.2,0.4,0.6,0.8,1,1.2,1.4,1.6,1.8,2], "tickSize": {"condition": {"test": "abs(datum.value - round(datum.value)) < 0.01", "value": -18}, "value": -9}, "labelPadding": 25, "labelExpr": "abs(datum.value - round(datum.value)) < 0.01 && datum.value > -1.5 ? '' + round(datum.value) : ''", "title": "\u03b7", "titleFont": "Liberation Serif", "titleFontSize": 36, "titleY": 66, "titleBaseline": "middle"}},
           "y": {"field": "v", "type": "quantitative", "scale": {"domain": [-2, 2], "nice": false, "zero": false},
                 "axis": {"orient": "left", "values": [-2,-1.8,-1.6,-1.4,-1.2,-1,-0.8,-0.6,-0.4,-0.2,0,0.2,0.4,0.6,0.8,1,1.2,1.4,1.6,1.8,2], "tickSize": {"condition": {"test": "abs(datum.value - round(datum.value)) < 0.01", "value": -16}, "value": -9}, "labels": false, "title": null}}
         }},
        {"data": {"name": "bpb"}, "transform": [{"filter": "datum.p == 3"}],
         "mark": {"type": "point", "opacity": 0},
         "encoding": {
           "x": {"field": "eta", "type": "quantitative", "scale": {"domain": [-2, 2], "nice": false, "zero": false},
                 "axis": {"orient": "top", "values": [-2,-1.8,-1.6,-1.4,-1.2,-1,-0.8,-0.6,-0.4,-0.2,0,0.2,0.4,0.6,0.8,1,1.2,1.4,1.6,1.8,2], "tickSize": {"condition": {"test": "abs(datum.value - round(datum.value)) < 0.01", "value": -18}, "value": -9}, "labels": false, "title": null}},
           "y": {"field": "v", "type": "quantitative", "scale": {"domain": [-2, 2], "nice": false, "zero": false},
                 "axis": {"orient": "right", "values": [-2,-1.8,-1.6,-1.4,-1.2,-1,-0.8,-0.6,-0.4,-0.2,0,0.2,0.4,0.6,0.8,1,1.2,1.4,1.6,1.8,2], "tickSize": {"condition": {"test": "abs(datum.value - round(datum.value)) < 0.01", "value": -16}, "value": -9}, "labels": false, "title": null}}
         }},
        {"data": {"values": [{}]}, "mark": {"type": "text", "text": "\u221as"}, "encoding": {"x": {"datum": -1.73, "axis": null}, "y": {"datum": 1.65, "axis": null}}},
        {"data": {"values": [{}]}, "mark": {"type": "text", "text": "NN", "fontSize": 22, "dx": 37, "dy": 9}, "encoding": {"x": {"datum": -1.73, "axis": null}, "y": {"datum": 1.65, "axis": null}}},
        {"data": {"values": [{}]}, "mark": {"type": "text", "text": "= 2.76 TeV", "dx": 75}, "encoding": {"x": {"datum": -1.73, "axis": null}, "y": {"datum": 1.65, "axis": null}}},
        {"data": {"values": [{}]}, "mark": {"type": "text", "text": "10-30 %", "align": "right"}, "encoding": {"x": {"datum": 1.77, "axis": null}, "y": {"datum": 1.18, "axis": null}}}
      ]
    },
    {
      "width": 484, "height": 482,
      "resolve": {"axis": {"x": "independent", "y": "independent"}},
      "layer": [
        {"data": {"values": [{}]}, "mark": {"type": "rule", "strokeDash": [14, 9], "strokeWidth": 2.5, "color": "black"}, "encoding": {"y": {"datum": 0, "axis": null}}},
        {"data": {"name": "bhy"}, "transform": [{"filter": "datum.p == 4 && isValid(datum.lo)"}],
         "mark": {"type": "rule", "color": "#cc0000", "strokeWidth": 2.5},
         "encoding": {"x": {"field": "eta", "type": "quantitative", "axis": null}, "y": {"field": "lo", "type": "quantitative", "axis": null}, "y2": {"field": "hi"}}},
        {"data": {"name": "bhy"}, "transform": [{"filter": "datum.p == 4"}],
         "mark": {"type": "point", "shape": "square", "filled": true, "color": "white", "size": 150, "opacity": 1},
         "encoding": {"x": {"field": "eta", "type": "quantitative", "axis": null}, "y": {"field": "v", "type": "quantitative", "axis": null}}},
        {"data": {"name": "bhy"}, "transform": [{"filter": "datum.p == 4"}],
         "mark": {"type": "point", "shape": "square", "filled": false, "color": "#cc0000", "strokeWidth": 2.5, "size": 150, "opacity": 1},
         "encoding": {"x": {"field": "eta", "type": "quantitative", "axis": null}, "y": {"field": "v", "type": "quantitative", "axis": null}}},
        {"data": {"name": "bpb"}, "transform": [{"filter": "datum.p == 4 && isValid(datum.lo)"}],
         "mark": {"type": "rule", "color": "black", "strokeWidth": 2.5},
         "encoding": {"x": {"field": "eta", "type": "quantitative", "axis": null}, "y": {"field": "lo", "type": "quantitative", "axis": null}, "y2": {"field": "hi"}}},
        {"data": {"name": "bpb"}, "transform": [{"filter": "datum.p == 4"}],
         "mark": {"type": "circle", "size": 144, "color": "black", "opacity": 1},
         "encoding": {
           "x": {"field": "eta", "type": "quantitative", "scale": {"domain": [-2, 2], "nice": false, "zero": false},
                 "axis": {"orient": "bottom", "values": [-2,-1.8,-1.6,-1.4,-1.2,-1,-0.8,-0.6,-0.4,-0.2,0,0.2,0.4,0.6,0.8,1,1.2,1.4,1.6,1.8,2], "tickSize": {"condition": {"test": "abs(datum.value - round(datum.value)) < 0.01", "value": -18}, "value": -9}, "labelPadding": 25, "labelExpr": "abs(datum.value - round(datum.value)) < 0.01 && datum.value > -1.5 ? '' + round(datum.value) : ''", "title": "\u03b7", "titleFont": "Liberation Serif", "titleFontSize": 36, "titleY": 66, "titleBaseline": "middle"}},
           "y": {"field": "v", "type": "quantitative", "scale": {"domain": [-2, 2], "nice": false, "zero": false},
                 "axis": {"orient": "left", "values": [-2,-1.8,-1.6,-1.4,-1.2,-1,-0.8,-0.6,-0.4,-0.2,0,0.2,0.4,0.6,0.8,1,1.2,1.4,1.6,1.8,2], "tickSize": {"condition": {"test": "abs(datum.value - round(datum.value)) < 0.01", "value": -16}, "value": -9}, "labels": false, "title": null}}
         }},
        {"data": {"name": "bpb"}, "transform": [{"filter": "datum.p == 4"}],
         "mark": {"type": "point", "opacity": 0},
         "encoding": {
           "x": {"field": "eta", "type": "quantitative", "scale": {"domain": [-2, 2], "nice": false, "zero": false},
                 "axis": {"orient": "top", "values": [-2,-1.8,-1.6,-1.4,-1.2,-1,-0.8,-0.6,-0.4,-0.2,0,0.2,0.4,0.6,0.8,1,1.2,1.4,1.6,1.8,2], "tickSize": {"condition": {"test": "abs(datum.value - round(datum.value)) < 0.01", "value": -18}, "value": -9}, "labels": false, "title": null}},
           "y": {"field": "v", "type": "quantitative", "scale": {"domain": [-2, 2], "nice": false, "zero": false},
                 "axis": {"orient": "right", "values": [-2,-1.8,-1.6,-1.4,-1.2,-1,-0.8,-0.6,-0.4,-0.2,0,0.2,0.4,0.6,0.8,1,1.2,1.4,1.6,1.8,2], "tickSize": {"condition": {"test": "abs(datum.value - round(datum.value)) < 0.01", "value": -16}, "value": -9}, "labels": false, "title": null}}
         }},
        {"data": {"values": [{}]}, "mark": {"type": "text", "text": "CMS Preliminary"}, "encoding": {"x": {"datum": -1.71, "axis": null}, "y": {"datum": 1.18, "axis": null}}},
        {"data": {"values": [{}]}, "mark": {"type": "text", "text": "0-10 %", "align": "right"}, "encoding": {"x": {"datum": 1.67, "axis": null}, "y": {"datum": 1.18, "axis": null}}}
      ]
    }
  ]
}
